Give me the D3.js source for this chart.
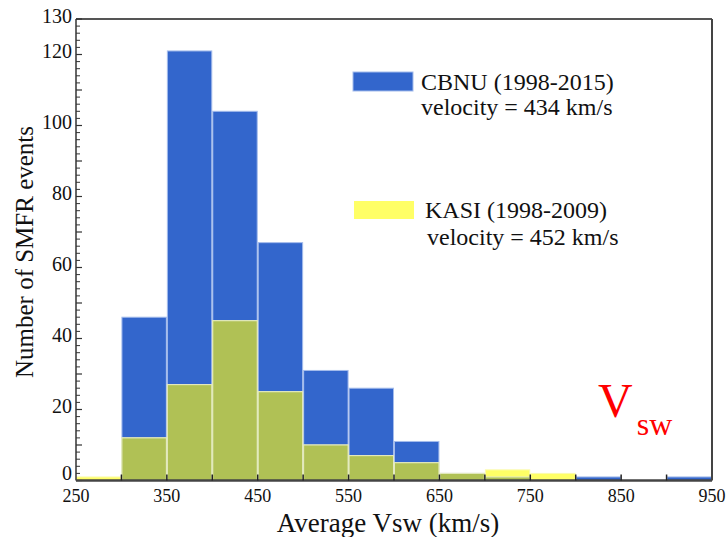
<!DOCTYPE html>
<html>
<head>
<meta charset="utf-8">
<script src="https://cdn.jsdelivr.net/npm/d3@7"></script>
<style>
  html, body { margin: 0; padding: 0; background: #fff; }
  svg { display: block; }
</style>
</head>
<body>
<svg id="chart" width="728" height="537"></svg>
<script>
// Histogram of average solar-wind speed for SMFR events (bin width 50 km/s)
const binStarts = [250, 300, 350, 400, 450, 500, 550, 600, 650, 700, 750, 800, 850, 900];
const binWidth = 50;
const cbnuCounts = [0, 46, 121, 104, 67, 31, 26, 11, 2, 1, 0, 1, 0, 1];
const kasiCounts = [1, 12, 27, 45, 25, 10, 7, 5, 2, 3, 2, 0, 0, 0];
const yTickLabels = [0, 20, 40, 60, 80, 100, 120, 130];
const xTickLabels = [250, 350, 450, 550, 650, 750, 850, 950];
const legendItems = [
  { name: "CBNU (1998-2015)", note: "velocity = 434 km/s" },
  { name: "KASI (1998-2009)", note: "velocity = 452 km/s" }
];

const serif = "'Times New Roman', Times, Tinos, 'Liberation Serif', 'DejaVu Serif', serif";
const svg = d3.select("#chart").attr("font-family", serif);
const plotLeft = 76, plotRight = 712, plotTop = 19, plotBottom = 480.5;

const x = d3.scaleLinear().domain([250, 950]).range([plotLeft, plotRight]);
const y = d3.scaleLinear().domain([0, 130]).range([plotBottom, plotTop]);

const colBlue = "#3366cc", colYellow = "#ffff66", colOlive = "#b0c155";

const bins = binStarts.map((s, i) => ({ s, cbnu: cbnuCounts[i], kasi: kasiCounts[i] }));

const barG = svg.append("g");
function drawBars(data, val, fill, stroke) {
  barG.selectAll(null).data(data.filter(d => val(d) > 0)).enter().append("rect")
    .attr("x", d => x(d.s) + 0.5)
    .attr("width", d => x(d.s + binWidth) - x(d.s) - 1)
    .attr("y", d => y(val(d)))
    .attr("height", d => y(0) - y(val(d)))
    .attr("fill", fill)
    .attr("stroke", stroke)
    .attr("stroke-width", 1);
}
drawBars(bins, d => d.cbnu, colBlue, "#a4bcec");
drawBars(bins, d => d.kasi, colYellow, "#fbfbb0");
drawBars(bins, d => Math.min(d.cbnu, d.kasi), colOlive, "#e4eac4");

// Frame: top and right edges
svg.append("line").attr("x1", plotLeft).attr("x2", plotRight).attr("y1", plotTop).attr("y2", plotTop)
  .attr("stroke", "#555").attr("stroke-width", 2);
svg.append("line").attr("x1", plotRight).attr("x2", plotRight).attr("y1", plotTop).attr("y2", plotBottom)
  .attr("stroke", "#444").attr("stroke-width", 2);

// Left axis with inward ticks
const yAxisG = svg.append("g").attr("transform", `translate(${plotLeft},0)`);
yAxisG.append("line").attr("x1", 0).attr("x2", 0).attr("y1", plotTop).attr("y2", plotBottom)
  .attr("stroke", "#333").attr("stroke-width", 1.5);
const yMinor = d3.range(0, 131, 2).filter(v => v % 10 !== 0);
const yMajor = d3.range(0, 131, 10);
yAxisG.selectAll(".ymin").data(yMinor).enter().append("line")
  .attr("x1", 0).attr("x2", 4).attr("y1", d => y(d)).attr("y2", d => y(d))
  .attr("stroke", "#333").attr("stroke-width", 1);
yAxisG.selectAll(".ymaj").data(yMajor).enter().append("line")
  .attr("x1", 0).attr("x2", 6).attr("y1", d => y(d)).attr("y2", d => y(d))
  .attr("stroke", "#333").attr("stroke-width", 1.2);
yAxisG.selectAll(".ylab").data(yTickLabels).enter().append("text")
  .attr("x", -4).attr("y", d => y(d) - (d === 0 ? 7 : 3)).attr("dy", "0.33em")
  .attr("text-anchor", "end").attr("font-size", 20).attr("fill", "#111")
  .text(d => d);

// Bottom axis with inward ticks
const xAxisG = svg.append("g");
xAxisG.append("line").attr("x1", plotLeft).attr("x2", plotRight).attr("y1", plotBottom).attr("y2", plotBottom)
  .attr("stroke", "#444").attr("stroke-width", 2.5);
xAxisG.selectAll(".xmaj").data(d3.range(300, 950, 50)).enter().append("line")
  .attr("x1", d => x(d)).attr("x2", d => x(d)).attr("y1", plotBottom).attr("y2", plotBottom - 6)
  .attr("stroke", "#222").attr("stroke-width", 1.5);
xAxisG.selectAll(".xlab").data(xTickLabels).enter().append("text")
  .attr("x", d => x(d)).attr("y", 502)
  .attr("text-anchor", "middle").attr("font-size", 18).attr("fill", "#111")
  .text(d => d);

// Axis titles
svg.append("text").attr("x", 388).attr("y", 532).attr("text-anchor", "middle")
  .attr("font-size", 27).attr("fill", "#111")
  .text("Average Vsw (km/s)");
svg.append("text").attr("transform", "translate(33,252) rotate(-90)")
  .attr("text-anchor", "middle").attr("font-size", 25).attr("fill", "#111")
  .text("Number of SMFR events");

// Legend
const legendG = svg.append("g");
legendG.append("rect").attr("x", 353).attr("y", 72).attr("width", 60).attr("height", 19)
  .attr("fill", colBlue).attr("stroke", "#a4bcec");
legendG.append("text").attr("x", 421).attr("y", 90).attr("font-size", 24).attr("fill", "#111")
  .text(legendItems[0].name);
legendG.append("text").attr("x", 421).attr("y", 115).attr("font-size", 24).attr("fill", "#111")
  .text(legendItems[0].note);
legendG.append("rect").attr("x", 354).attr("y", 201).attr("width", 60).attr("height", 18)
  .attr("fill", colYellow);
legendG.append("text").attr("x", 425).attr("y", 218).attr("font-size", 24).attr("fill", "#111")
  .text(legendItems[1].name);
legendG.append("text").attr("x", 427).attr("y", 245).attr("font-size", 24).attr("fill", "#111")
  .text(legendItems[1].note);

// V_sw label
const vsw = svg.append("text").attr("x", 598).attr("y", 417).attr("fill", "#ff0000");
vsw.append("tspan").attr("font-size", 48).text("V");
vsw.append("tspan").attr("font-size", 32).attr("dy", 18).attr("dx", 4).text("sw");
</script>
</body>
</html>
